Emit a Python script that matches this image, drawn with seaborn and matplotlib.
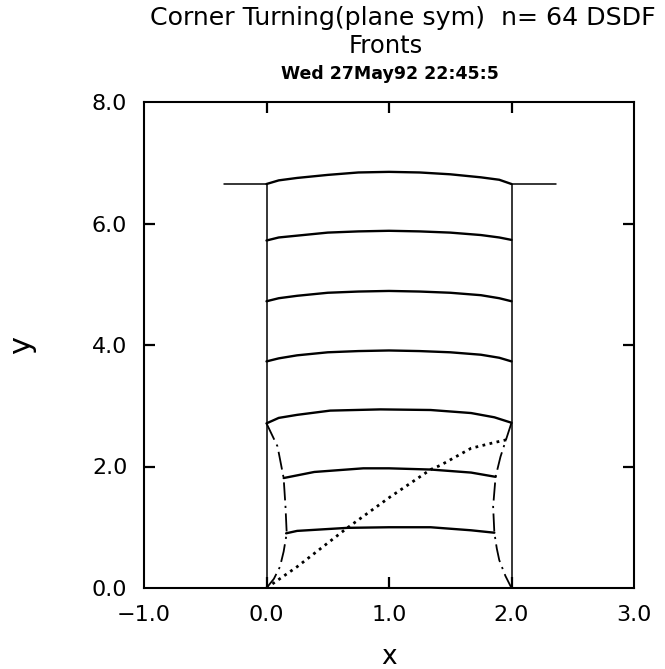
import matplotlib
matplotlib.use("Agg")
import matplotlib.pyplot as plt
import numpy as np
import pandas as pd
import seaborn as sns

# ---------------- data ----------------
title_text = "Corner Turning(plane sym)  n= 64 DSDF"
subtitle_text = "Fronts"
stamp_text = "Wed 27May92 22:45:5"
x_label = "x"
y_label = "y"
x_ticks = [-1.0, 0.0, 1.0, 2.0, 3.0]
y_ticks = [0.0, 2.0, 4.0, 6.0, 8.0]
x_minor = [0.0, 1.0, 2.0]
y_minor = [2.0, 4.0, 6.0]

# walls (solid thin)
wall_left_x = [-0.35, 0.0, 0.0]
wall_left_y = [6.65, 6.65, 0.0]
wall_right_x = [2.0, 2.0, 2.36]
wall_right_y = [0.0, 6.65, 6.65]

# full-width fronts
full_x = [0.0, 0.1, 0.25, 0.5, 0.75, 1.0, 1.25, 1.5, 1.75, 1.9, 2.0]
front1_y = [6.65, 6.71, 6.75, 6.80, 6.84, 6.85, 6.84, 6.81, 6.76, 6.72, 6.65]
front2_y = [5.72, 5.77, 5.80, 5.85, 5.87, 5.88, 5.87, 5.85, 5.81, 5.77, 5.73]
front3_y = [4.72, 4.77, 4.81, 4.86, 4.88, 4.89, 4.88, 4.86, 4.82, 4.77, 4.72]
front4_y = [3.73, 3.78, 3.83, 3.88, 3.90, 3.91, 3.90, 3.88, 3.84, 3.79, 3.73]
front5_x = [0.0, 0.1, 0.25, 0.52, 0.93, 1.34, 1.67, 1.86, 2.0]
front5_y = [2.71, 2.80, 2.85, 2.92, 2.94, 2.93, 2.88, 2.81, 2.72]
# partial fronts (between diffraction curves)
front6_x = [0.14, 0.39, 0.79, 1.0, 1.34, 1.67, 1.87]
front6_y = [1.81, 1.91, 1.97, 1.97, 1.95, 1.90, 1.83]
front7_x = [0.16, 0.25, 0.66, 1.0, 1.34, 1.67, 1.86]
front7_y = [0.90, 0.94, 0.99, 1.00, 1.00, 0.95, 0.91]

# corner diffraction curves (dash-dot)
diff_left_x = [0.0, 0.09, 0.14, 0.155, 0.165, 0.14, 0.11, 0.06, 0.0]
diff_left_y = [2.71, 2.33, 1.81, 1.34, 0.90, 0.60, 0.35, 0.15, 0.0]
diff_right_x = [2.0, 1.91, 1.87, 1.85, 1.86, 1.88, 1.90, 1.95, 2.0]
diff_right_y = [2.72, 2.16, 1.83, 1.34, 0.91, 0.65, 0.46, 0.20, 0.0]

# particle path (dotted)
path_x = [0.0, 0.25, 0.66, 1.01, 1.34, 1.42, 1.67, 1.85, 1.96]
path_y = [0.0, 0.35, 0.99, 1.50, 1.95, 2.02, 2.30, 2.39, 2.44]

# ---------------- figure ----------------
sns.set_style("white")
plt.rcParams["font.family"] = ["DejaVu Sans"]
plt.rcParams["text.color"] = "black"
plt.rcParams["axes.labelcolor"] = "black"
plt.rcParams["xtick.color"] = "black"
plt.rcParams["ytick.color"] = "black"

W, H = 665, 669
fig = plt.figure(figsize=(W / 100, H / 100), dpi=100)
L, R, T, B = 144, 634, 102, 588
ax = fig.add_axes([L / W, 1 - B / H, (R - L) / W, (B - T) / H])


def draw(xs, ys, name, **kw):
    df = pd.DataFrame({"x": xs, "y": ys, "curve": name})
    sns.lineplot(data=df, x="x", y="y", sort=False, estimator=None,
                 color="black", ax=ax, legend=False, **kw)


draw(wall_left_x, wall_left_y, "wl", linewidth=1.1)
draw(wall_right_x, wall_right_y, "wr", linewidth=1.1)
for fy in [front1_y, front2_y, front3_y, front4_y]:
    draw(full_x, fy, "f", linewidth=1.7)
draw(front5_x, front5_y, "f5", linewidth=1.7)
draw(front6_x, front6_y, "f6", linewidth=1.7)
draw(front7_x, front7_y, "f7", linewidth=1.7)
draw(diff_left_x, diff_left_y, "dl", linewidth=1.3, dashes=(10, 3, 1.2, 3))
draw(diff_right_x, diff_right_y, "dr", linewidth=1.3, dashes=(10, 3, 1.2, 3))
draw(path_x, path_y, "p", linewidth=2.0, dashes=(1.0, 1.6))

ax.set_xlim(x_ticks[0], x_ticks[-1])
ax.set_ylim(y_ticks[0], y_ticks[-1])
ax.xaxis.remove_overlapping_locs = False
ax.yaxis.remove_overlapping_locs = False
ax.set_xticks(x_ticks)
ax.set_yticks(y_ticks)
ax.set_xticklabels([f"{v:.1f}".replace("-", "\u2212") for v in x_ticks])
ax.set_yticklabels([f"{v:.1f}" for v in y_ticks])
ax.set_xticks(x_minor, minor=True)
ax.set_yticks(y_minor, minor=True)
ax.tick_params(which="major", length=0, labelsize=16, pad=12)
ax.tick_params(which="minor", direction="in", length=8, width=1.6,
               top=True, right=True, bottom=True, left=True,
               labelbottom=False, labelleft=False)
ax.set_xlabel(x_label, fontsize=19, labelpad=14)
ax.set_ylabel(y_label, fontsize=22, rotation=90, labelpad=40)
for s in ax.spines.values():
    s.set_linewidth(1.5)
    s.set_color("black")
    s.set_visible(True)

fig.text(403 / W, 1 - 18 / H, title_text, ha="center", va="center", fontsize=18.2)
fig.text(386 / W, 1 - 46 / H, subtitle_text, ha="center", va="center", fontsize=17.5)
fig.text(390 / W, 1 - 74 / H, stamp_text, ha="center", va="center",
         fontsize=12.5, fontweight="bold")

fig.savefig("out.png", dpi=100)
